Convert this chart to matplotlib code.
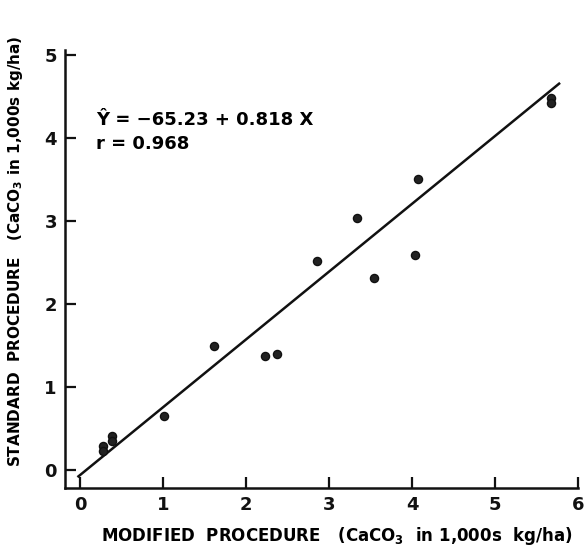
import numpy as np
import matplotlib
matplotlib.use("Agg")
import matplotlib.pyplot as plt

# modified vs standard procedure (CaCO3 in 1000s kg/ha)
modified = [0.28, 0.28, 0.38, 0.38, 1.01, 1.61, 2.23, 2.37, 2.85, 3.34, 3.54, 4.04, 4.07, 5.67, 5.67]
standard = [0.29, 0.22, 0.41, 0.35, 0.65, 1.49, 1.37, 1.39, 2.52, 3.03, 2.31, 2.59, 3.51, 4.48, 4.42]

intercept = -0.06523  # -65.23 kg/ha
slope = 0.818
line_x = [-0.02, 5.77]

xticks = [0, 1, 2, 3, 4, 5, 6]
yticks = [0, 1, 2, 3, 4, 5]

plt.rcParams['font.family'] = ['DejaVu Sans']
plt.rcParams['font.weight'] = 'bold'

fig = plt.figure(figsize=(5.87, 5.5), dpi=100)
ax = fig.add_axes([0.111, 0.113, 0.874, 0.796])

lx = np.array(line_x)
ax.plot(lx, intercept + slope * lx, color='#111111', lw=1.8)
ax.scatter(modified, standard, s=34, c='#222222', edgecolors='#111111', zorder=3)

ax.set_xlim(-0.18, 6.0)
ax.set_ylim(-0.22, 5.06)
ax.set_xticks(xticks)
ax.set_yticks(yticks)
ax.tick_params(direction='in', length=8, width=1.6, labelsize=13, colors='#111111', pad=6)
for lab in ax.get_xticklabels() + ax.get_yticklabels():
    lab.set_fontweight('bold')

for s in ['top', 'right']:
    ax.spines[s].set_visible(False)
for s in ['left', 'bottom']:
    ax.spines[s].set_linewidth(1.8)
    ax.spines[s].set_color('#111111')

ax.set_xlabel('MODIFIED  PROCEDURE   (CaCO$_3$  in 1,000s  kg/ha)', fontsize=12,
              fontweight='bold')
ax.set_ylabel('STANDARD  PROCEDURE   (CaCO$_3$ in 1,000s kg/ha)', fontsize=11,
              fontweight='bold')
ax.xaxis.set_label_coords(0.53, -0.085)
ax.yaxis.set_label_coords(-0.078, 0.54)

ax.text(0.06, 0.84, '\u0176 = \u221265.23 + 0.818 X', transform=ax.transAxes,
        fontsize=13, fontweight='bold', va='center')
ax.text(0.06, 0.785, 'r = 0.968', transform=ax.transAxes,
        fontsize=13, fontweight='bold', va='center')

fig.savefig('out.png', dpi=100)
